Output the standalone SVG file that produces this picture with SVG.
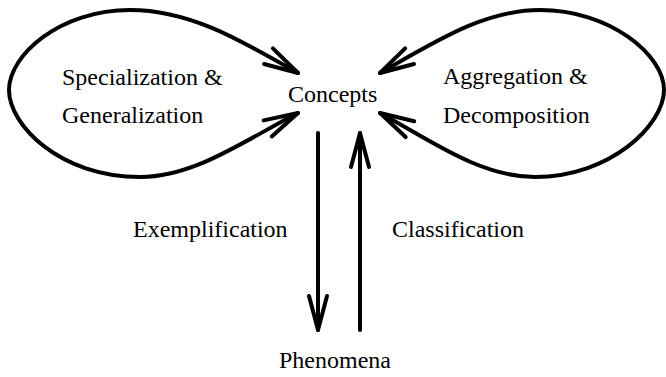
<svg xmlns="http://www.w3.org/2000/svg" width="666" height="377" viewBox="0 0 666 377">
<style>
text{font-family:"Liberation Serif","Times New Roman",serif;font-size:24px;fill:#000}
.edge{fill:none;stroke:#000;stroke-width:4;stroke-linecap:round;stroke-linejoin:round}
</style>
<defs>
<marker id="ah" markerUnits="userSpaceOnUse" viewBox="-40 -15 46 30" refX="0" refY="0" markerWidth="46" markerHeight="30" orient="auto-start-reverse" overflow="visible">
<path d="M-34,-9 L0,0 L-34,9" fill="none" stroke="#000" stroke-width="4" stroke-linecap="round" stroke-linejoin="round"/>
</marker>
</defs>
<rect width="666" height="377" fill="#fff"/>
<g id="connectors">
<path class="edge" d="M298,73 C240,40 190,10 130,10 C60,10 9,55 9,90 C9,125 60,177 140,177 C195,177 245,140 298,113" marker-start="url(#ah)" marker-end="url(#ah)"/>
<path class="edge" d="M380,73 C438,40 485,10 540,10 C610,10 664,55 664,90 C664,125 610,177 535,177 C480,177 430,140 380,113" marker-start="url(#ah)" marker-end="url(#ah)"/>
<path class="edge" d="M318,133 L318,330" marker-end="url(#ah)"/>
<path class="edge" d="M360,330 L360,133" marker-end="url(#ah)"/>
<text x="62" y="85">Specialization &amp;</text>
<text x="62" y="123">Generalization</text>
<text x="443" y="84">Aggregation &amp;</text>
<text x="443" y="123">Decomposition</text>
<text x="133" y="237">Exemplification</text>
<text x="392" y="237">Classification</text>
</g>
<g id="concepts"><text x="288" y="102">Concepts</text></g>
<g id="phenomena"><text x="279" y="368">Phenomena</text></g>
</svg>
